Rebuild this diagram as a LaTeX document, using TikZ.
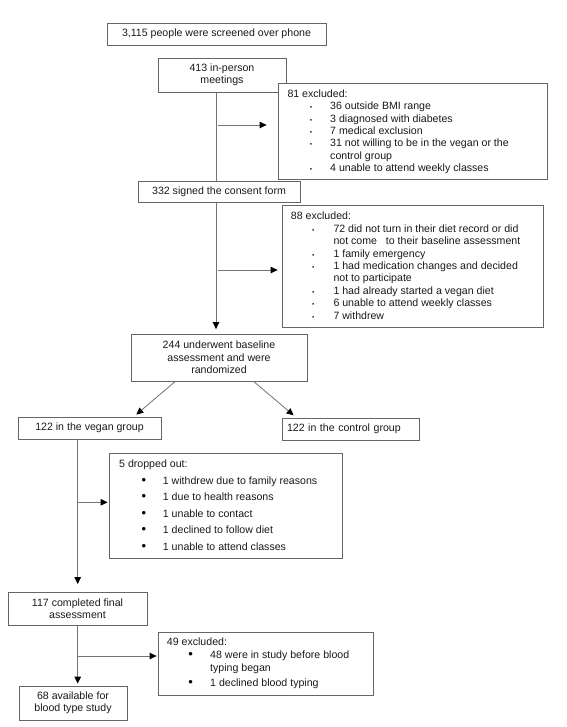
\documentclass[tikz,border=0pt]{standalone}
\usepackage{fontspec}
\setmainfont{Liberation Sans}
\usetikzlibrary{arrows.meta}
\newcommand\fsz{\fontsize{10.6}{12.4}\selectfont}
\tikzset{
 box/.style={draw=black!60, line width=0.8pt, inner sep=0pt, align=center, font=\fsz, text=black!90},
 lbl/.style={anchor=base west, inner sep=0pt, font=\fsz, text=black!90},
 sbul/.style={anchor=base, inner sep=0pt, font=\fontsize{6.5}{7}\selectfont, text=black!90},
 bbul/.style={anchor=base, inner sep=0pt, font=\fontsize{13}{13}\selectfont, text=black},
 conn/.style={draw=black!55, line width=0.8pt},
 arr/.style={conn, -{Triangle[length=7pt,width=6.5pt,color=black]}},
}
% #1 name, #2 x, #3 y(baseline), #4 text
\newcommand\exline[4]{\node[lbl] (#1) at (#2,#3) {#4};}
% #1 name, #2 bullet x, #3 text x, #4 baseline, #5 text, #6 bullet style
\newcommand\exbul[6]{\node[#6] (#1b) at (#2,#4) {•}; \node[lbl] (#1) at (#3,#4) {#5};}
\begin{document}
\begin{tikzpicture}[x=1pt,y=-1pt]
\useasboundingbox (0,0) rectangle (566,727);
% main boxes
\node[box, minimum width=219pt, minimum height=22pt] (b1) at (216.5,34) {3,115 people were screened over phone};
\node[box, minimum width=128pt, minimum height=34pt] (b2) at (222,75) {413 in-person\\meetings};
\node[box, fill=white, minimum width=269pt, minimum height=96pt] (ex1) at (412.5,131) {};
\node[box, minimum width=162pt, minimum height=21.5pt] (b3) at (219,191.75) {332 signed the consent form};
\node[box, minimum width=261pt, minimum height=122pt] (ex2) at (412.5,266) {};
\node[box, minimum width=176pt, minimum height=47pt] (b4) at (219,357.5) {244 underwent baseline\\assessment and were\\randomized};
\node[box, minimum width=143pt, minimum height=22pt] (veg) at (89.5,428) {122 in the vegan group};
\node[box, minimum width=137pt, minimum height=22pt, text width=127pt, align=left, inner xsep=5pt] (ctl) at (350.5,429) {122 in the control group};
\node[box, minimum width=233pt, minimum height=105pt] (drop) at (225.5,505.5) {};
\node[box, minimum width=139pt, minimum height=33pt] (b5) at (77.5,608.5) {117 completed final\\assessment};
\node[box, minimum width=215pt, minimum height=63pt] (ex3) at (265.5,663.5) {};
\node[box, minimum width=108pt, minimum height=34pt] (b6) at (73,703) {68 available for\\blood type study};
% texts of ex1
\exline{a0}{287.3}{97.3}{81 excluded:}
\exbul{a1}{311}{330}{109.7}{36 outside BMI range}{sbul}
\exbul{a2}{311}{330}{122.1}{3 diagnosed with diabetes}{sbul}
\exbul{a3}{311}{330}{134.5}{7 medical exclusion}{sbul}
\exbul{a4}{311}{330}{146.9}{31 not willing to be in the vegan or the}{sbul}
\exline{a5}{330}{159.3}{control group}
\exbul{a6}{311}{330}{171.7}{4 unable to attend weekly classes}{sbul}
% texts of ex2
\exline{c0}{290.7}{219.8}{88 excluded:}
\exbul{c1}{313.3}{333.3}{232.2}{72 did not turn in their diet record or did}{sbul}
\exline{c2}{333.3}{244.6}{not come\ \ \ to their baseline assessment}
\exbul{c3}{313.3}{333.3}{257.0}{1 family emergency}{sbul}
\exbul{c4}{313.3}{333.3}{269.4}{1 had medication changes and decided}{sbul}
\exline{c5}{333.3}{281.8}{not to participate}
\exbul{c6}{313.3}{333.3}{294.2}{1 had already started a vegan diet}{sbul}
\exbul{c7}{313.3}{333.3}{306.6}{6 unable to attend weekly classes}{sbul}
\exbul{c8}{313.3}{333.3}{319.0}{7 withdrew}{sbul}
% texts of drop
\exline{d0}{119}{467.5}{5 dropped out:}
\exbul{d1}{144}{162.7}{484.2}{1 withdrew due to family reasons}{bbul}
\exbul{d2}{144}{162.7}{500.7}{1 due to health reasons}{bbul}
\exbul{d3}{144}{162.7}{517.2}{1 unable to contact}{bbul}
\exbul{d4}{144}{162.7}{533.7}{1 declined to follow diet}{bbul}
\exbul{d5}{144}{162.7}{550.2}{1 unable to attend classes}{bbul}
% texts of ex3
\exline{e0}{166.7}{645.8}{49 excluded:}
\exbul{e1}{190.7}{210}{658.5}{48 were in study before blood}{bbul}
\exline{e2}{210}{671.8}{typing began}
\exbul{e3}{190.7}{210}{686.8}{1 declined blood typing}{bbul}
% connectors
\coordinate (L) at (216,0);
\coordinate (L2) at (77.7,0);
\coordinate (j1) at (216,125);
\coordinate (j2) at (216,270);
\coordinate (j3) at (77.7,502.3);
\coordinate (j4) at (77.7,656);
\draw[conn] (b2.south -| L) -- (b3.north -| L);
\draw[arr, shorten <=2pt, shorten >=11pt] (j1) -- (j1 -| ex1.west);
\draw[arr, shorten >=4.5pt] (b3.south -| L) -- (b4.north -| L);
\draw[arr, shorten <=2pt, shorten >=4pt] (j2) -- (j2 -| ex2.west);
\draw[arr] ([xshift=44.7pt]b4.south west) -- ([xshift=118.7pt,yshift=2pt]veg.north west);
\draw[arr] ([xshift=123pt]b4.south west) -- ([xshift=12pt,yshift=2.3pt]ctl.north west);
\draw[arr, shorten >=7.5pt] (veg.south -| L2) -- (b5.north -| L2);
\draw[arr, shorten >=1pt] (j3) -- (j3 -| drop.west);
\draw[arr, shorten >=2pt] (b5.south -| L2) -- (b6.north -| L2);
\draw[arr, shorten >=1pt] (j4) -- (j4 -| ex3.west);
\end{tikzpicture}
\end{document}
